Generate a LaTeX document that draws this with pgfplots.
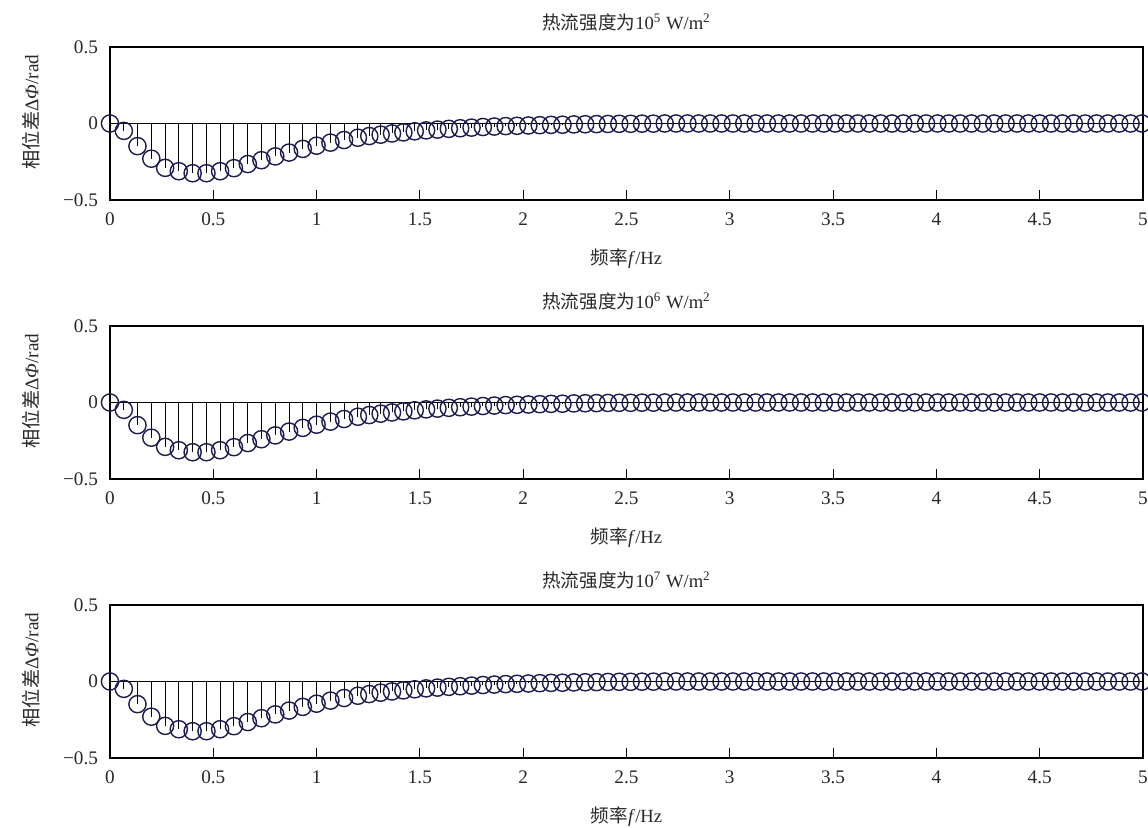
\documentclass[border=0pt]{standalone}
\usepackage{fontspec}
\setmainfont{Liberation Serif}
\newfontfamily\cjk{Noto Sans CJK SC}
\usepackage{pgfplots}
\usepackage{pgfplotstable}
\pgfplotsset{compat=1.18}
\definecolor{mk}{RGB}{28,28,78}
\definecolor{txt}{RGB}{40,40,40}

\pgfplotstableread{
x y
0 0
0.067 -0.048
0.133 -0.148
0.2 -0.23
0.267 -0.29
0.333 -0.312
0.4 -0.325
0.467 -0.325
0.533 -0.312
0.6 -0.292
0.667 -0.265
0.733 -0.24
0.8 -0.215
0.867 -0.19
0.933 -0.166
1.0 -0.145
1.067 -0.125
1.133 -0.108
1.2 -0.093
1.255 -0.082
1.31 -0.073
1.365 -0.065
1.42 -0.058
1.475 -0.051
1.53 -0.045
1.585 -0.040
1.64 -0.035
1.695 -0.031
1.75 -0.027
1.805 -0.023
1.86 -0.020
1.915 -0.017
1.97 -0.015
2.025 -0.013
2.08 -0.011
2.135 -0.009
2.19 -0.008
2.245 -0.006
2.3 -0.005
2.355 -0.004
2.41 -0.003
2.465 -0.002
2.52 -0.002
2.575 -0.001
2.63 -0.001
2.685 0
2.74 0
2.795 0
2.85 0
2.905 0
2.96 0
3.015 0
3.07 0
3.125 0
3.18 0
3.235 0
3.29 0
3.345 0
3.4 0
3.455 0
3.51 0
3.565 0
3.62 0
3.675 0
3.73 0
3.785 0
3.84 0
3.895 0
3.95 0
4.005 0
4.06 0
4.115 0
4.17 0
4.225 0
4.28 0
4.335 0
4.39 0
4.445 0
4.5 0
4.555 0
4.61 0
4.665 0
4.72 0
4.775 0
4.83 0
4.885 0
4.94 0
4.995 0
}\dataA

\pgfplotsset{
  stemaxis/.style={
    scale only axis,
    width=516.5pt, height=76.5pt,
    xmin=0, xmax=5, ymin=-0.5, ymax=0.5,
    xtick={0,0.5,1,1.5,2,2.5,3,3.5,4,4.5,5},
    xticklabels={0,0.5,1,1.5,2,2.5,3,3.5,4,4.5,5},
    ytick={-0.5,0,0.5},
    yticklabels={−0.5,0,0.5},
    xtick pos=bottom, ytick pos=left,
    tick align=inside,
    major tick length=5pt,
    axis line style={black, line width=0.55pt},
    tick style={black, line width=0.5pt},
    ytick style={draw=none},
    tick label style={font=\fontsize{9.6}{11}\selectfont, text=txt},
    xticklabel style={yshift=-3pt},
    yticklabel style={xshift=-2.5pt},
    title style={at={(axis description cs:0.5,1)}, anchor=south, inner sep=0pt, yshift=1.5pt, font=\fontsize{9.3}{11}\selectfont, text=txt},
    xlabel style={at={(axis description cs:0.5,0)}, anchor=north, inner sep=0pt, yshift=-24pt, font=\fontsize{9.3}{11}\selectfont, text=txt},
    every axis y label/.style={at={(axis description cs:-0.0765,0.575)}, rotate=90, anchor=center, inner sep=0pt, font=\fontsize{9.6}{11}\selectfont, text=txt},
    xlabel={{\cjk 频率}\textit{f}/Hz},
    ylabel={{\cjk 相位差}Δ\textit{Φ}/rad},
    clip=false,
  },
  stems/.style={ycomb, black, line width=0.5pt, mark=o, mark size=4.3pt,
    mark options={draw=mk, line width=0.7pt}},
}

\begin{document}
\begin{tikzpicture}
\useasboundingbox (0,0) rectangle (574pt,-414pt);

\begin{axis}[stemaxis, at={(55pt,-23.5pt)}, anchor=north west,
  title={{\cjk 热流强度为}10\textsuperscript{5} W/m\textsuperscript{2}}]
\addplot[black, line width=0.6pt] coordinates {(0,0) (5,0)};
\addplot[stems] table[x=x,y=y] {\dataA};
\end{axis}

\begin{axis}[stemaxis, at={(55pt,-163pt)}, anchor=north west,
  title={{\cjk 热流强度为}10\textsuperscript{6} W/m\textsuperscript{2}}]
\addplot[black, line width=0.6pt] coordinates {(0,0) (5,0)};
\addplot[stems] table[x=x,y=y] {\dataA};
\end{axis}

\begin{axis}[stemaxis, at={(55pt,-302.5pt)}, anchor=north west,
  title={{\cjk 热流强度为}10\textsuperscript{7} W/m\textsuperscript{2}}]
\addplot[black, line width=0.6pt] coordinates {(0,0) (5,0)};
\addplot[stems] table[x=x,y=y] {\dataA};
\end{axis}
\end{tikzpicture}
\end{document}
